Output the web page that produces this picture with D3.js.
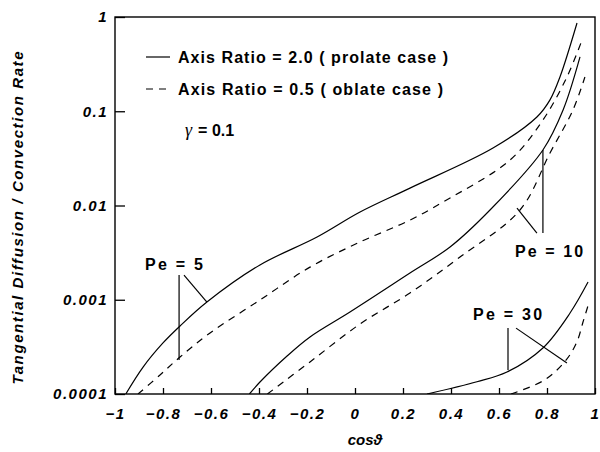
<!DOCTYPE html>
<html>
<head>
<meta charset="utf-8">
<script src="https://cdn.jsdelivr.net/npm/d3@7"></script>
<style>
  body { margin: 0; background: #fff; }
  text { font-family: "Liberation Sans", Arial, sans-serif; fill: #000; }
</style>
</head>
<body>
<svg id="chart" width="600" height="452"></svg>
<script>
// values (cos theta, rate)
const pe5_prolate_c = [-0.955, -0.883, -0.8, -0.729, -0.617, -0.396, -0.158, 0.021, 0.229, 0.575, 0.758, 0.8125, 0.854, 0.925];
const pe5_prolate_v = [1.0e-4, 1.93e-4, 3.48e-4, 5.27e-4, 9.46e-4, 2.34e-3, 4.63e-3, 8.53e-3, 0.0153, 0.0407, 0.0869, 0.132, 0.231, 0.863];

const pe5_oblate_c = [-0.904, -0.8125, -0.729, -0.604, -0.396, -0.1875, 0.021, 0.229, 0.367, 0.646, 0.783, 0.883, 0.946];
const pe5_oblate_v = [1.0e-4, 1.59e-4, 2.47e-4, 4.44e-4, 9.93e-4, 2.22e-3, 4.1e-3, 7.0e-3, 0.0109, 0.0304, 0.0807, 0.231, 0.570];

const pe10_prolate_c = [-0.44, -0.396, -0.283, -0.1875, -0.021, 0.229, 0.396, 0.5625, 0.783, 0.867, 0.9375];
const pe10_prolate_v = [1.0e-4, 1.34e-4, 2.53e-4, 4.03e-4, 7.41e-4, 1.92e-3, 3.63e-3, 8.96e-3, 0.0388, 0.103, 0.377];

const pe10_oblate_c = [-0.365, -0.1875, 0.021, 0.229, 0.4375, 0.6875, 0.8125, 0.908, 0.958];
const pe10_oblate_v = [1.0e-4, 2.19e-4, 5.53e-4, 1.18e-3, 2.84e-3, 8.96e-3, 0.0361, 0.103, 0.231];

const pe30_prolate_c = [0.3, 0.508, 0.633, 0.783, 0.896, 0.971];
const pe30_prolate_v = [1.0e-4, 1.35e-4, 1.71e-4, 3.08e-4, 7.23e-4, 1.54e-3];

const pe30_oblate_c = [0.65, 0.79, 0.88, 0.925, 0.95, 0.97];
const pe30_oblate_v = [1.0e-4, 1.41e-4, 2.3e-4, 3.6e-4, 5.8e-4, 8.5e-4];

const xTicks = [-1, -0.8, -0.6, -0.4, -0.2, 0, 0.2, 0.4, 0.6, 0.8, 1];
const yTicks = [0.0001, 0.001, 0.01, 0.1, 1];
const yTickLabels = ["0.0001", "0.001", "0.01", "0.1", "1"];

// "Pe = .." labels and their pointer lines
const peLabels = ["Pe = 5", "Pe = 10", "Pe = 30"];
const peLabelAt = [[-0.875, 2.07e-3], [0.667, 2.84e-3], [0.492, 6.1e-4]];
const peLeaders = [
  [[-0.733, 1.83e-3], [-0.733, 2.3e-4]],
  [[-0.7125, 1.83e-3], [-0.617, 9.46e-4]],
  [[0.783, 0.0388], [0.783, 5.1e-3]],
  [[0.758, 5.1e-3], [0.675, 9.4e-3]],
  [[0.6375, 5.0e-4], [0.6375, 1.8e-4]],
  [[0.671, 5.0e-4], [0.883, 2.13e-4]]
];

const legendLabels = ["Axis Ratio = 2.0 ( prolate case )", "Axis Ratio = 0.5 ( oblate case )"];

const margin = {top: 17, right: 5, bottom: 58, left: 115};
const width = 600, height = 452;

const svg = d3.select('svg#chart');

const x = d3.scaleLinear().domain([-1, 1]).range([margin.left, width - margin.right]);
const y = d3.scaleLog().domain([1e-4, 1]).range([height - margin.bottom, margin.top]);

svg.append('clipPath').attr('id', 'plotclip')
  .append('rect')
    .attr('x', x(-1)).attr('y', y(1))
    .attr('width', x(1) - x(-1)).attr('height', y(1e-4) - y(1));

const line = d3.line()
  .x(d => x(d[0]))
  .y(d => y(d[1]))
  .curve(d3.curveCatmullRom.alpha(0.5));

const series = [
  [pe5_prolate_c, pe5_prolate_v, false],
  [pe5_oblate_c, pe5_oblate_v, true],
  [pe10_prolate_c, pe10_prolate_v, false],
  [pe10_oblate_c, pe10_oblate_v, true],
  [pe30_prolate_c, pe30_prolate_v, false],
  [pe30_oblate_c, pe30_oblate_v, true]
];

const curves = svg.append('g').attr('clip-path', 'url(#plotclip)');
series.forEach(s => {
  curves.append('path')
    .datum(d3.zip(s[0], s[1]))
    .attr('d', line)
    .attr('fill', 'none')
    .attr('stroke', '#000')
    .attr('stroke-width', 1.2)
    .attr('stroke-dasharray', s[2] ? '7,6' : null);
});

// axes: ticks point inwards
const gX = svg.append('g').attr('transform', `translate(0, ${y(1e-4)})`);
gX.call(d3.axisTop(x).tickValues(xTicks).tickSize(6).tickFormat(''));
gX.select('.domain').remove();

const gX2 = svg.append('g').attr('transform', `translate(0, ${y(1e-4)})`);
gX2.call(d3.axisBottom(x).tickValues(xTicks).tickSize(0).tickPadding(14).tickFormat(d3.format('')));
gX2.select('.domain').remove();
gX2.selectAll('text')
  .style('font-size', '15px').style('font-style', 'italic').style('font-weight', 'bold')
  .style('letter-spacing', '1.5px');

const gY = svg.append('g').attr('transform', `translate(${x(-1)}, 0)`);
gY.call(d3.axisRight(y).tickValues(yTicks).tickSize(10).tickFormat(''));
gY.select('.domain').remove();

const gY2 = svg.append('g').attr('transform', `translate(${x(-1)}, 0)`);
gY2.call(d3.axisLeft(y).tickValues(yTicks).tickSize(0).tickPadding(7)
  .tickFormat((d, i) => yTickLabels[i]));
gY2.select('.domain').remove();
gY2.selectAll('text')
  .style('font-size', '15px').style('font-style', 'italic').style('font-weight', 'bold')
  .style('letter-spacing', '1.5px');

svg.selectAll('.tick line').attr('stroke-width', 1.3);

// frame
svg.append('rect')
  .attr('x', x(-1)).attr('y', y(1))
  .attr('width', x(1) - x(-1)).attr('height', y(1e-4) - y(1))
  .attr('fill', 'none').attr('stroke', '#000').attr('stroke-width', 1.4);

// axis titles
svg.append('text')
  .attr('transform', `translate(23, 218) rotate(-90)`)
  .attr('text-anchor', 'middle')
  .attr('textLength', 333).attr('lengthAdjust', 'spacing')
  .style('font-size', '15px').style('font-style', 'italic').style('font-weight', 'bold')
  .text('Tangential Diffusion / Convection Rate');

svg.append('text')
  .attr('x', 365).attr('y', 445)
  .attr('text-anchor', 'middle')
  .style('font-size', '15px').style('font-style', 'italic').style('font-weight', 'bold')
  .text('cos\u03D1');

// legend
const legend = svg.append('g');
legendLabels.forEach((t, i) => {
  const ly = 57 + i * 32;
  legend.append('line')
    .attr('x1', 146).attr('x2', 170).attr('y1', ly).attr('y2', ly)
    .attr('stroke', '#000').attr('stroke-width', 1.2)
    .attr('stroke-dasharray', i ? '7,6' : null);
  legend.append('text')
    .attr('x', 178).attr('y', ly + 6)
    .attr('textLength', i ? 265 : 270).attr('lengthAdjust', 'spacing')
    .style('font-size', '16px').style('font-weight', 'bold')
    .text(t);
});
const gam = legend.append('text')
  .attr('x', 185).attr('y', 136)
  .style('font-size', '16px').style('font-weight', 'bold');
gam.append('tspan')
  .style('font-family', '"Liberation Serif", serif').style('font-style', 'italic').style('font-weight', 'normal')
  .style('font-size', '18px')
  .text('\u03B3');
gam.append('tspan').attr('dx', 6).text('= 0.1');

// Pe annotations
const labelWidths = [58, 68, 69];
peLabels.forEach((t, i) => {
  svg.append('text')
    .attr('x', x(peLabelAt[i][0])).attr('y', y(peLabelAt[i][1]))
    .attr('textLength', labelWidths[i]).attr('lengthAdjust', 'spacing')
    .style('font-size', '16px').style('font-weight', 'bold')
    .text(t);
});
svg.selectAll('line.leader')
  .data(peLeaders)
  .enter()
  .append('line')
    .attr('class', 'leader')
    .attr('x1', d => x(d[0][0])).attr('y1', d => y(d[0][1]))
    .attr('x2', d => x(d[1][0])).attr('y2', d => y(d[1][1]))
    .attr('stroke', '#000').attr('stroke-width', 1.2);
</script>
</body>
</html>
